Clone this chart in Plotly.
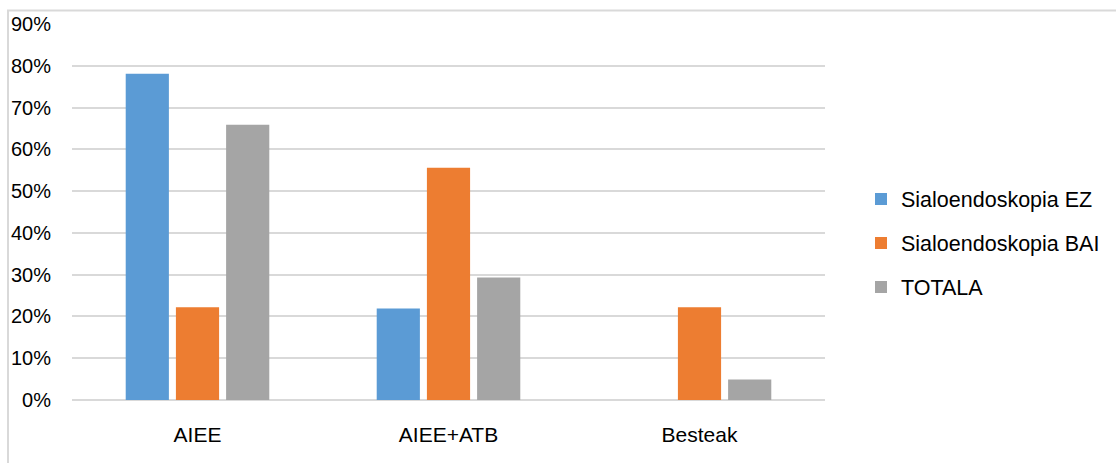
import plotly.graph_objects as go

categories = ["AIEE", "AIEE+ATB", "Besteak"]
series_names = ["Sialoendoskopia EZ", "Sialoendoskopia BAI", "TOTALA"]
ez_values = [0.781, 0.219, 0.0]
bai_values = [0.222, 0.556, 0.222]
total_values = [0.659, 0.293, 0.049]
y_ticks = [0, 0.1, 0.2, 0.3, 0.4, 0.5, 0.6, 0.7, 0.8, 0.9]

colors = ["#5B9BD5", "#ED7D31", "#A5A5A5"]
font_family = "Liberation Sans, Arial, sans-serif"

fig = go.Figure()
for i, (name, vals) in enumerate(zip(series_names, [ez_values, bai_values, total_values])):
    fig.add_trace(go.Bar(
        x=categories, y=vals, name=name,
        marker=dict(color=colors[i], line=dict(width=0)),
        legendgroup=f"g{i}",
    ))

W, H = 1116, 463
ml, mr, mt, mb = 72, 291, 24, 63
pw, ph = W - ml - mr, H - mt - mb

def px_x(x):
    return (x - ml) / pw

def px_y(y):
    return (H - mb - y) / ph

fig.update_layout(
    width=W, height=H,
    margin=dict(l=ml, r=mr, t=mt, b=mb, autoexpand=False),
    paper_bgcolor="white", plot_bgcolor="white",
    barmode="group", bargap=0.40, bargroupgap=0.14,
    font=dict(family=font_family, size=20, color="#000000"),
    showlegend=True,
    legend=dict(
        x=px_x(861), y=px_y(243), xanchor="left", yanchor="middle",
        font=dict(size=21.5, family=font_family, color="#000000"),
        tracegroupgap=13, itemwidth=30,
        bgcolor="rgba(0,0,0,0)",
    ),
    xaxis=dict(
        showgrid=False, showline=False, ticks="", zeroline=False,
        ticklabelstandoff=20,
        tickfont=dict(size=21),
    ),
    yaxis=dict(
        range=[0, 0.9], tickvals=y_ticks, tickformat=".0%",
        showgrid=True, gridcolor="#D9D9D9", gridwidth=1.5,
        zeroline=True, zerolinecolor="#D9D9D9", zerolinewidth=1.5,
        showline=False, ticks="", ticklabelstandoff=20,
        tickfont=dict(size=20),
    ),
    shapes=[dict(
        type="rect", xref="paper", yref="paper",
        x0=px_x(8), x1=px_x(1300), y0=px_y(600), y1=px_y(10.5),
        line=dict(color="#D9D9D9", width=2), fillcolor="rgba(0,0,0,0)",
        layer="below",
    )],
)

fig.write_html("out.html")
